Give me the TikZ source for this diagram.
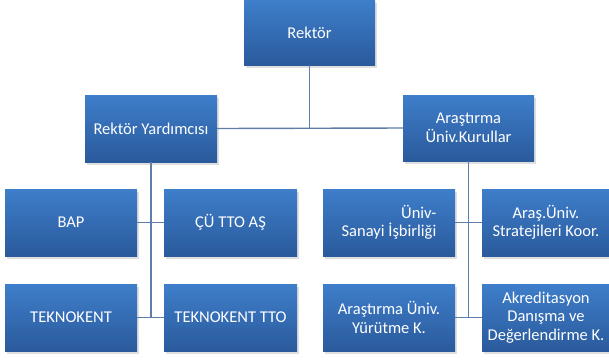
\documentclass[tikz,border=0pt]{standalone}
\usepackage{fontspec}
\setmainfont{Carlito}
\usetikzlibrary{shadows}
\definecolor{boxtop}{RGB}{62,126,202}
\definecolor{boxbot}{RGB}{42,90,156}
\definecolor{linkcol}{RGB}{92,126,168}
\begin{document}
\begin{tikzpicture}[x=1pt,y=-1pt,
        unit/.style={rectangle,top color=boxtop,bottom color=boxbot,
            text=white,font=\fontsize{16.5}{18.5}\selectfont,align=center,
            minimum width=132pt,minimum height=67pt,inner sep=2pt,
            drop shadow={opacity=0.25,shadow xshift=1.5pt,shadow yshift=-2.5pt}},
        link/.style={draw=linkcol,line width=1.4pt}]
    \useasboundingbox (0,0) rectangle (609,360);
    % top level
    \node[unit,minimum width=131pt,minimum height=65pt] (rektor) at (309.5,32.5) {Rektör};
    \node[unit] (ryard) at (151,128.5) {Rektör Yardımcısı};
    \node[unit,minimum width=131pt,minimum height=66pt] (arast) at (468.5,128) {Araştırma\\Üniv.Kurullar};
    % left branch
    \node[unit] (bap) at (71,222.5) {BAP};
    \node[unit,minimum width=133pt] (cutto) at (230.5,222.5) {ÇÜ TTO AŞ};
    \node[unit] (tekno) at (71,317.5) {TEKNOKENT};
    \node[unit,minimum width=133pt] (teknotto) at (230.5,317.5) {TEKNOKENT TTO};
    % right branch
    \node[unit,align=right] (univ) at (389,222.5) {Üniv-\\Sanayi İşbirliği};
    \node[unit,minimum width=128pt] (arasuniv) at (546,222.5) {Araş.Üniv.\\Stratejileri Koor.};
    \node[unit] (arasyur) at (389,317.5) {Araştırma Üniv.\\Yürütme K.};
    \node[unit,minimum width=128pt] (akred) at (546,317.5) {Akreditasyon\\Danışma ve\\Değerlendirme K.};
    % links
    \draw[link] (rektor.south) -- (rektor.south |- ryard.east);
    \draw[link] (ryard.east) -- (arast.west);
    \draw[link] (ryard.south) -- (ryard.south |- tekno.east);
    \draw[link] (bap.east) -- (cutto.west);
    \draw[link] (tekno.east) -- (teknotto.west);
    \draw[link] (arast.south) -- (arast.south |- akred.west);
    \draw[link] (univ.east) -- (arasuniv.west);
    \draw[link] (arasyur.east) -- (akred.west);
\end{tikzpicture}
\end{document}
